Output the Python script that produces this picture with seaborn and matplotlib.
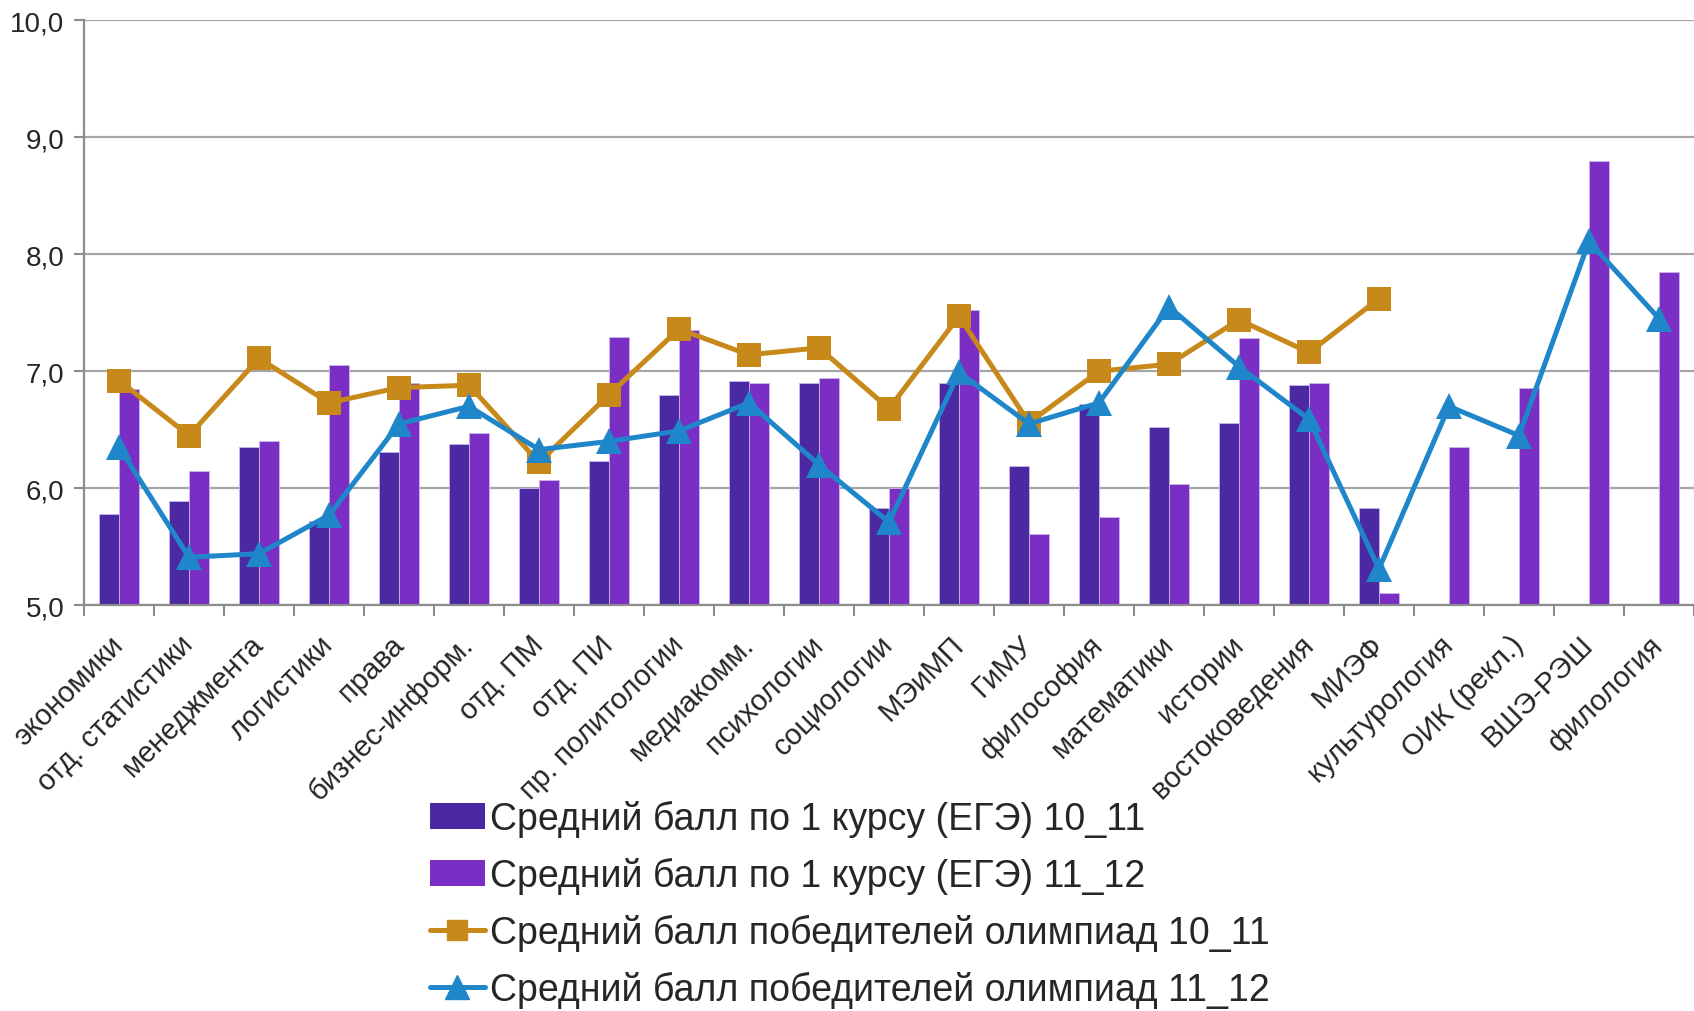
import numpy as np
import pandas as pd
import seaborn as sns
import matplotlib
matplotlib.use("Agg")
import matplotlib.pyplot as plt
from matplotlib.ticker import FixedLocator, FuncFormatter
from matplotlib.patches import Patch
from matplotlib.lines import Line2D

# категории (факультеты / отделения)
kategorii = ["экономики", "отд. статистики", "менеджмента", "логистики", "права",
             "бизнес-информ.", "отд. ПМ", "отд. ПИ", "пр. политологии", "медиакомм.",
             "психологии", "социологии", "МЭиМП", "ГиМУ", "философия", "математики",
             "истории", "востоковедения", "МИЭФ", "культурология", "ОИК (рекл.)",
             "ВШЭ-РЭШ", "филология"]

nan = np.nan
ege_10_11 = [5.78, 5.89, 6.35, 5.72, 6.31, 6.38, 6.00, 6.23, 6.80, 6.92, 6.90, 5.83,
             6.90, 6.19, 6.72, 6.52, 6.56, 6.88, 5.83, nan, nan, nan, nan]
ege_11_12 = [6.85, 6.15, 6.40, 7.05, 6.90, 6.47, 6.07, 7.29, 7.35, 6.90, 6.94, 6.00,
             7.52, 5.61, 5.75, 6.04, 7.28, 6.90, 5.10, 6.35, 6.86, 8.80, 7.85]
olimp_10_11 = [6.92, 6.45, 7.11, 6.73, 6.86, 6.88, 6.22, 6.80, 7.36, 7.14, 7.20, 6.68,
               7.47, 6.56, 7.00, 7.06, 7.44, 7.16, 7.62, nan, nan, nan, nan]
olimp_11_12 = [6.35, 5.41, 5.44, 5.77, 6.55, 6.70, 6.33, 6.40, 6.49, 6.73, 6.20, 5.71,
               6.99, 6.55, 6.73, 7.55, 7.04, 6.59, 5.31, 6.70, 6.45, 8.11, 7.45]

serii = ["Средний балл по 1 курсу (ЕГЭ) 10_11", "Средний балл по 1 курсу (ЕГЭ) 11_12",
         "Средний балл победителей олимпиад 10_11", "Средний балл победителей олимпиад 11_12"]

c_dark = "#4a29a3"
c_purp = "#7b2ec4"
c_orng = "#c8891b"
c_blue = "#1f87c9"

sns.set_style("white")
plt.rcParams['font.family'] = ['Liberation Sans', 'DejaVu Sans']

tabela = pd.DataFrame({
    "kat": kategorii * 2,
    "val": ege_10_11 + ege_11_12,
    "ser": [serii[0]] * len(kategorii) + [serii[1]] * len(kategorii),
})

fig = plt.figure(figsize=(16.94, 10.12), dpi=100)
ax = fig.add_axes([0.0496, 0.401, 0.9504, 0.578])

# сетка
for v in range(5, 11):
    ax.axhline(v, color="#a6a6a6", lw=1.6, zorder=0)

sns.barplot(data=tabela, x="kat", y="val", hue="ser", order=kategorii,
            palette=[c_dark, c_purp], saturation=1, width=0.57, dodge=True, ax=ax,
            legend=False, zorder=2, linewidth=0.6, edgecolor="#c9b8e8")

x = np.arange(len(kategorii))
sns.lineplot(x=x, y=olimp_10_11, color=c_orng, lw=3.6, marker="s", markersize=17,
             markeredgewidth=0, ax=ax, zorder=3)
sns.lineplot(x=x, y=olimp_11_12, color=c_blue, lw=3.6, marker="^", markersize=19,
             markeredgewidth=0, ax=ax, zorder=4)

ax.set_ylim(5, 10)
ax.set_xlim(-0.5, len(kategorii) - 0.5)
ax.set_xlabel("")
ax.set_ylabel("")

ax.yaxis.set_major_locator(FixedLocator(range(5, 11)))
ax.yaxis.set_major_formatter(FuncFormatter(lambda v, p: f"{v:.1f}".replace(".", ",")))
ax.tick_params(axis="y", labelsize=20, length=7, width=1.5, color="#8c8c8c", pad=7, left=True)

# деления по границам категорий, подписи по центру
ax.xaxis.set_major_locator(FixedLocator(np.arange(-0.5, len(kategorii), 1.0)))
ax.xaxis.set_major_formatter(FuncFormatter(lambda v, p: ""))
ax.xaxis.set_minor_locator(FixedLocator(x))
ax.set_xticklabels(kategorii, minor=True, rotation=45, ha="right", va="center",
                   rotation_mode="anchor")
ax.tick_params(axis="x", which="major", length=8, width=1.5, color="#8c8c8c", bottom=True)
ax.tick_params(axis="x", which="minor", length=0, labelsize=21, pad=25)

for s in ["top", "right"]:
    ax.spines[s].set_visible(False)
for s in ["left", "bottom"]:
    ax.spines[s].set_color("#8c8c8c")
    ax.spines[s].set_linewidth(1.6)

handles = [
    Patch(facecolor=c_dark, edgecolor="none"),
    Patch(facecolor=c_purp, edgecolor="none"),
    Line2D([], [], color=c_orng, lw=3.6, marker="s", markersize=15),
    Line2D([], [], color=c_blue, lw=3.6, marker="^", markersize=17),
]
fig.legend(handles, serii, loc="center left", bbox_to_anchor=(0.254, 0.106),
           frameon=False, fontsize=27, handlelength=1.45, handletextpad=0.15,
           labelspacing=0.53, borderpad=0, borderaxespad=0)

fig.savefig("out.png", dpi=100)
